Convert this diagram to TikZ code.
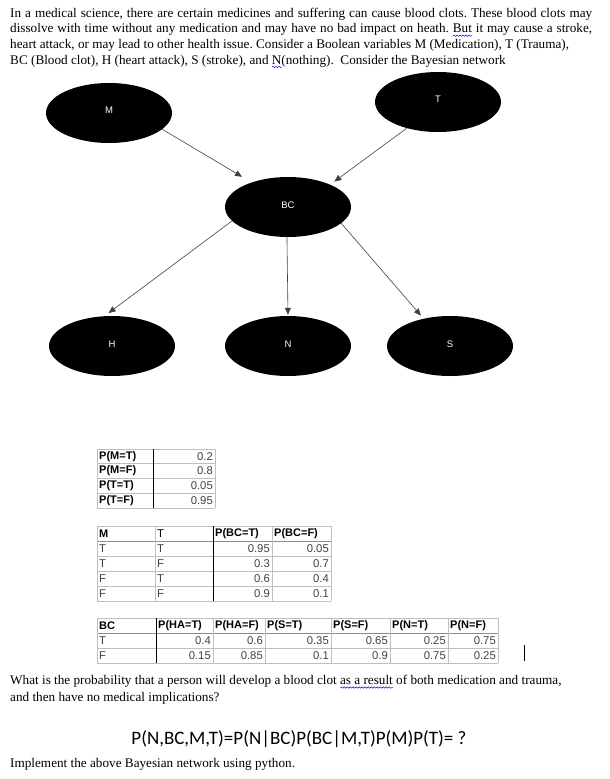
\documentclass[tikz,border=0pt]{standalone}
\usepackage{fontspec}
\setmainfont{Liberation Serif}
\newfontfamily\arialfont{Liberation Sans}
\newfontfamily\calibrifont{Carlito}
\usetikzlibrary{arrows.meta,shapes.geometric,decorations.pathmorphing}
\frenchspacing
\newlength\wavewd
\newcommand\spellwave[1]{\settowidth\wavewd{#1}\rlap{\tikz[baseline=0pt,x=1pt,y=1pt]\draw[blue, line width=0.5pt, decorate, decoration={snake,amplitude=0.7pt,segment length=3pt}] (0,-3) -- (\wavewd,-3);}#1}

\begin{document}
\begin{tikzpicture}[x=1pt,y=-1pt]
\tikzstyle{every node}=[inner sep=0pt]
\tikzstyle{txt}=[anchor=base west, font=\fontsize{13.2}{15}\selectfont]
\tikzstyle{var}=[ellipse, fill=black, minimum width=126pt, minimum height=60pt, text=white, font=\arialfont\fontsize{9.5}{11}\selectfont]
\tikzstyle{edge}=[draw=black!75, line width=0.6pt, -{Triangle[length=7pt,width=6pt]}]
\tikzstyle{grid}=[draw=black!25, line width=0.6pt]
\tikzstyle{sep}=[draw=black, line width=1pt]
\tikzstyle{headline}=[draw=black!45, line width=1pt]
\tikzstyle{head}=[font=\arialfont\bfseries\fontsize{11}{12}\selectfont]
\tikzstyle{cell}=[font=\arialfont\fontsize{11.3}{12}\selectfont, text=black!75]
\useasboundingbox (0,0) rectangle (610,779);

% question text
\node[txt] (l1) at (10,17) {\hbox to 582pt{In a medical science, there are certain medicines and suffering can cause blood clots. These blood clots may}};
\node[txt] (l2) at (10,32.7) {\hbox to 582pt{dissolve with time without any medication and may have no bad impact on heath. \spellwave{But} it may cause a stroke,}};
\node[txt] (l3) at (10,48.4) {heart attack, or may lead to other health issue. Consider a Boolean variables M (Medication), T (Trauma),};
\node[txt] (l4) at (10,64) {BC (Blood clot), H (heart attack), S (stroke), and \spellwave{N}(nothing).\ \ Consider the Bayesian network};

% network
\node[var] (M) at (109,113) {\raisebox{5pt}{M}};
\node[var] (T) at (438,102) {\raisebox{5pt}{T}};
\node[var] (BC) at (288,207) {\raisebox{4pt}{BC}};
\node[var] (H) at (112,346) {\raisebox{4pt}{H}};
\node[var] (N) at (288,346) {\raisebox{4pt}{N}};
\node[var] (S) at (450,346) {\raisebox{4pt}{S}};

\draw[edge, shorten >=11pt] (M.-17) -- (BC.146);
\draw[edge, shorten >=5pt] (T.-140) -- (BC.28);
\draw[edge, shorten >=5pt] (BC.-166) -- (H.104);
\draw[edge, shorten >=1pt] (BC.-92) -- (N.north);
\draw[edge, shorten >=4pt] (BC.-17) -- (S.134);

% table of M and T
\foreach \y in {449,463.75,478.5,493.25,508} \draw[grid] (97,\y) -- (215,\y);
\draw[grid] (97,449) -- (97,508);
\draw[grid] (215,449) -- (215,508);
\draw[sep] (153,449) -- (153,508);
\foreach \lab/\val [count=\i] in {M=T/0.2, M=F/0.8, T=T/0.05, T=F/0.95} {
  \node[head, anchor=west] (pl\i) at (99,441.6+14.75*\i) {P(\lab)};
  \node[cell, anchor=east] (pv\i) at (213,441.6+14.75*\i) {\val};
}

% table of BC
\foreach \y in {526,556,571,586,601} \draw[grid] (97,\y) -- (331,\y);
\draw[headline] (97,541) -- (331,541);
\foreach \x in {97,155,272,331} \draw[grid] (\x,526) -- (\x,601);
\draw[sep] (213,526) -- (213,601);
\node[head, anchor=west] (bch1) at (99,533.5) {M};
\node[cell, anchor=west, text=black] (bch2) at (157,533.5) {T};
\node[head, anchor=west] (bch3) at (215,533.5) {P(BC=T)};
\node[head, anchor=west] (bch4) at (274,533.5) {P(BC=F)};
\foreach \m/\t/\pt/\pf [count=\i] in {T/T/0.95/0.05, T/F/0.3/0.7, F/T/0.6/0.4, F/F/0.9/0.1} {
  \node[cell, anchor=west] (bcm\i) at (99,533.5+15*\i) {\m};
  \node[cell, anchor=west] (bct\i) at (157,533.5+15*\i) {\t};
  \node[cell, anchor=east] (bcp\i) at (270,533.5+15*\i) {\pt};
  \node[cell, anchor=east] (bcq\i) at (329,533.5+15*\i) {\pf};
}

% table of H, S and N
\foreach \y in {618,648,663} \draw[grid] (97,\y) -- (498,\y);
\draw[headline] (97,633) -- (498,633);
\foreach \x in {97,213,265,331,390,448,498} \draw[grid] (\x,618) -- (\x,663);
\draw[sep] (156,618) -- (156,663);
\foreach \lab/\x [count=\i] in {BC/99, P(HA=T)/158, P(HA=F)/215, P(S=T)/267, P(S=F)/333, P(N=T)/392, P(N=F)/450}
  \node[head, anchor=west] (oh\i) at (\x,625.5) {\lab};
\foreach \bc/\ha/\hb/\sa/\sb/\na/\nb [count=\i] in {T/0.4/0.6/0.35/0.65/0.25/0.75, F/0.15/0.85/0.1/0.9/0.75/0.25} {
  \node[cell, anchor=west] (ob\i) at (99,625.5+15*\i) {\bc};
  \node[cell, anchor=east] (oha\i) at (211,625.5+15*\i) {\ha};
  \node[cell, anchor=east] (ohb\i) at (263,625.5+15*\i) {\hb};
  \node[cell, anchor=east] (osa\i) at (329,625.5+15*\i) {\sa};
  \node[cell, anchor=east] (osb\i) at (388,625.5+15*\i) {\sb};
  \node[cell, anchor=east] (ona\i) at (446,625.5+15*\i) {\na};
  \node[cell, anchor=east] (onb\i) at (496,625.5+15*\i) {\nb};
}
\draw[line width=0.8pt] (524,645) -- (524,661);

% question
\node[txt] (q1) at (10,684.5) {What is the probability that a person will develop a blood clot \spellwave{as a result} of both medication and trauma,};
\node[txt] (q2) at (10,701.5) {and then have no medical implications?};
\node[anchor=base, font=\calibrifont\fontsize{19}{21}\selectfont] (formula) at (299,744) {P(N,BC,M,T)=P(N|BC)P(BC|M,T)P(M)P(T)= ?};
\node[txt] (q3) at (10,767.5) {Implement the above Bayesian network using python.};

\end{tikzpicture}
\end{document}
